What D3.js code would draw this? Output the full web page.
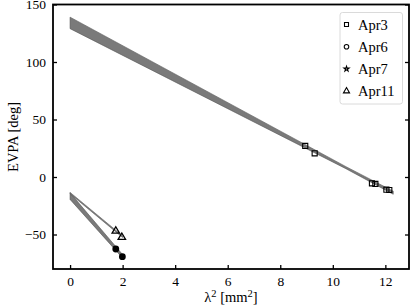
<!DOCTYPE html>
<html>
<head>
<meta charset="utf-8">
<script src="https://cdn.jsdelivr.net/npm/d3@7"></script>
<style>
  body { margin: 0; background: #fff; }
  svg { display: block; font-family: "Liberation Serif", "DejaVu Serif", serif; }
</style>
</head>
<body>
<div id="chart"></div>
<script>
const width = 415;
const height = 307;

// measured points
const apr3X = [8.95, 9.31, 11.49, 11.62, 12.04, 12.15];
const apr3Y = [27, 20.6, -5.5, -6, -11, -11.3];
const apr6X = [1.74, 1.99];
const apr6Y = [-62.6, -69.3];
const apr11X = [1.74, 1.97];
const apr11Y = [-47, -52.4];

// fit envelopes
const band3X = [0, 10.5, 12.3];
const band3Hi = [139, 9, -12.3];
const band3Lo = [129, 7.2, -15];
const band6X = [0, 2.02];
const band6Hi = [-13.8, -68];
const band6Lo = [-19.5, -71];
const band11X = [0, 2.0];
const band11Hi = [-13.4, -51.2];
const band11Lo = [-14.6, -52.6];

const legendNames = ["Apr3", "Apr6", "Apr7", "Apr11"];
const xTicks = [0, 2, 4, 6, 8, 10, 12];
const yTicks = [-50, 0, 50, 100, 150];

const x = d3.scaleLinear().domain([-0.65, 12.9]).range([53, 409]);
const y = d3.scaleLinear().domain([-80, 150]).range([269, 4.5]);

const svg = d3.select("#chart")
  .append("svg")
  .attr("width", width)
  .attr("height", height);

function band(xs, hi, lo) {
  return d3.area()
    .x((d, i) => x(xs[i]))
    .y0((d, i) => y(lo[i]))
    .y1((d, i) => y(hi[i]))(xs);
}

const bands = [
  [band3X, band3Hi, band3Lo],
  [band6X, band6Hi, band6Lo],
  [band11X, band11Hi, band11Lo],
];

svg.append("g")
  .selectAll("path")
  .data(bands)
  .join("path")
  .attr("d", (d) => band(d[0], d[1], d[2]))
  .attr("fill", "#7a7a7a")
  .attr("stroke", "#555")
  .attr("stroke-width", 0.6);

// markers
const sq = d3.symbol().type(d3.symbolSquare).size(26);
const tri = d3.symbol().type(d3.symbolTriangle).size(24);

svg.append("g")
  .selectAll("path")
  .data(apr3X)
  .join("path")
  .attr("transform", (d, i) => `translate(${x(d)},${y(apr3Y[i])})`)
  .attr("d", sq)
  .attr("fill", "none")
  .attr("stroke", "#000")
  .attr("stroke-width", 1.1);

svg.append("g")
  .selectAll("circle")
  .data(apr6X)
  .join("circle")
  .attr("cx", (d) => x(d))
  .attr("cy", (d, i) => y(apr6Y[i]))
  .attr("r", 3.4)
  .attr("fill", "#000");

svg.append("g")
  .selectAll("path")
  .data(apr11X)
  .join("path")
  .attr("transform", (d, i) => `translate(${x(d)},${y(apr11Y[i])})`)
  .attr("d", tri)
  .attr("fill", "none")
  .attr("stroke", "#000")
  .attr("stroke-width", 1.3);

// axes
const fs = "13.5px";
const fsl = "14.5px";
const xAxis = svg.append("g")
  .attr("transform", `translate(0,269)`)
  .call(d3.axisBottom(x).tickValues(xTicks).tickSizeInner(-4).tickSizeOuter(0).tickPadding(7));
const yAxis = svg.append("g")
  .attr("transform", `translate(53,0)`)
  .call(d3.axisLeft(y).tickValues(yTicks).tickSizeInner(-4).tickSizeOuter(0).tickPadding(7)
    .tickFormat((d) => (d < 0 ? "\u2212" + Math.abs(d) : d)));
const yAxisR = svg.append("g")
  .attr("transform", `translate(409,0)`)
  .call(d3.axisRight(y).tickValues(yTicks).tickSizeInner(-4).tickSizeOuter(0).tickFormat(""));

[xAxis, yAxis, yAxisR].forEach((g) => {
  g.select(".domain").remove();
  g.selectAll("line").attr("stroke", "#000").attr("stroke-width", 1.3);
  g.selectAll("text")
    .attr("font-family", "Liberation Serif, serif")
    .attr("font-size", fs)
    .attr("fill", "#000");
});

svg.append("rect")
  .attr("x", 53)
  .attr("y", 4.5)
  .attr("width", 409 - 53)
  .attr("height", 269 - 4.5)
  .attr("fill", "none")
  .attr("stroke", "#000")
  .attr("stroke-width", 1.8);

// axis labels
svg.append("text")
  .attr("transform", "translate(13,137) rotate(-90)")
  .attr("text-anchor", "middle")
  .attr("dy", "0.35em")
  .attr("font-size", fsl)
  .text("EVPA [deg]");

const xl = svg.append("text")
  .attr("x", 231)
  .attr("y", 302)
  .attr("text-anchor", "middle")
  .attr("font-size", fsl);
xl.append("tspan").text("\u03bb");
xl.append("tspan").attr("font-size", "10.5px").attr("dy", -5.5).text("2");
xl.append("tspan").attr("dy", 5.5).text(" [mm");
xl.append("tspan").attr("font-size", "10.5px").attr("dy", -5.5).text("2");
xl.append("tspan").attr("dy", 5.5).text("]");

// legend
const legend = svg.append("g");
legend.append("rect")
  .attr("x", 340)
  .attr("y", 12.5)
  .attr("width", 62.5)
  .attr("height", 91.5)
  .attr("rx", 2.5)
  .attr("fill", "#fff")
  .attr("stroke", "#d0d0d0")
  .attr("stroke-width", 0.8);

const legendSymbols = [d3.symbolSquare, d3.symbolCircle, d3.symbolStar, d3.symbolTriangle];
const legendSizes = [16, 16, 8, 16];
const row = legend.selectAll("g.row")
  .data(legendNames)
  .join("g")
  .attr("class", "row")
  .attr("transform", (d, i) => `translate(346.5,${24.5 + i * 22.2})`);

row.append("path")
  .attr("d", (d, i) => d3.symbol().type(legendSymbols[i]).size(legendSizes[i])())
  .attr("fill", "none")
  .attr("stroke", "#000")
  .attr("stroke-width", 1.1);

row.append("text")
  .attr("x", 11.5)
  .attr("dy", "0.35em")
  .attr("font-size", fsl)
  .text((d) => d);
</script>
</body>
</html>
